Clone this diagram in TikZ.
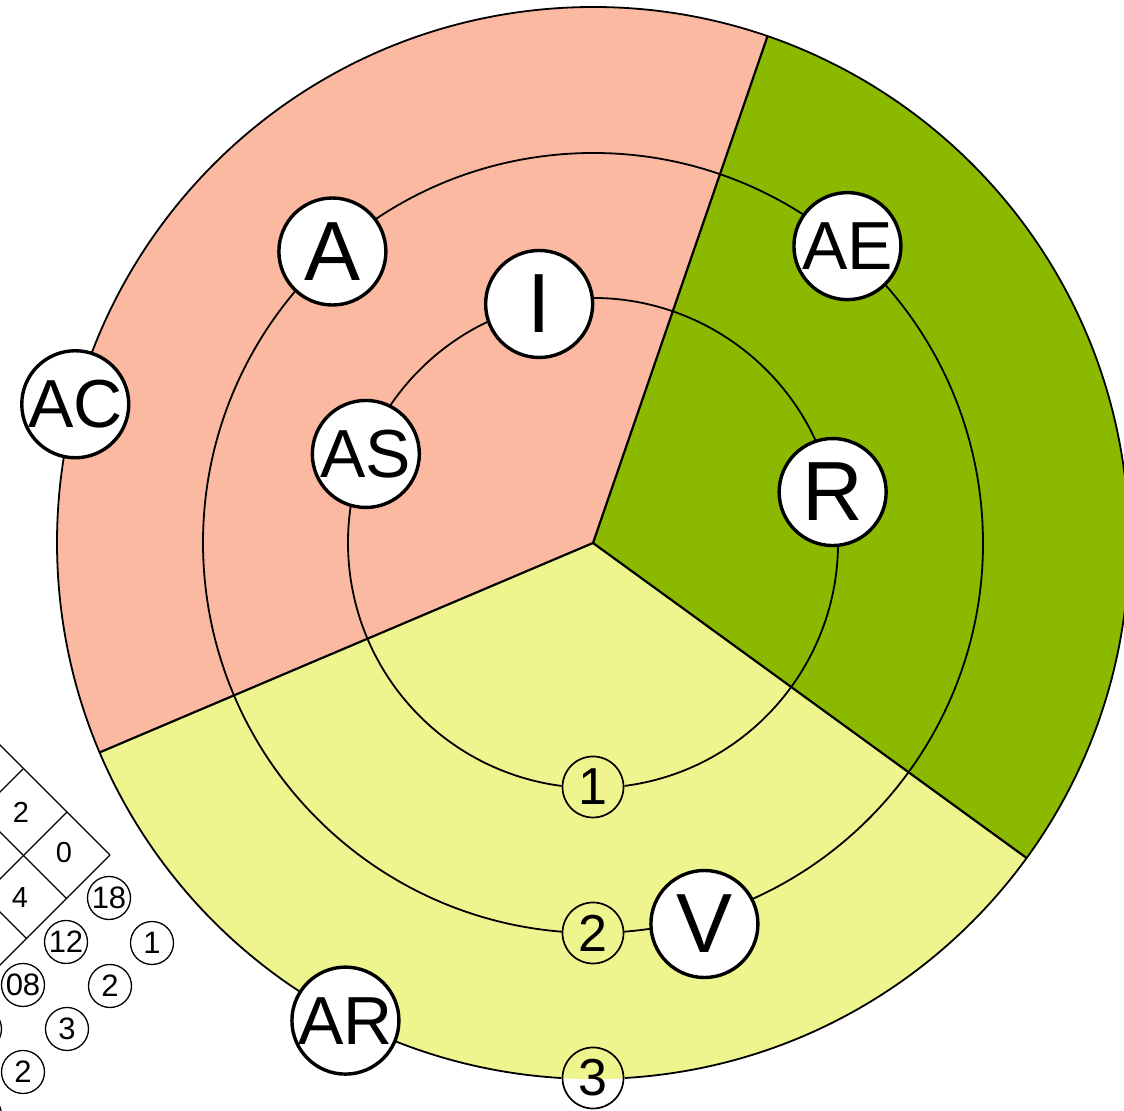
\documentclass[tikz,border=0pt]{standalone}
\usepackage{fontspec}
\setmainfont{Liberation Sans}
\definecolor{pinkS}{RGB}{250,185,160}
\definecolor{greenS}{RGB}{138,185,0}
\definecolor{yellowS}{RGB}{239,245,142}
\begin{document}
\begin{tikzpicture}[x=0.5pt,y=0.5pt,
  bignode/.style={circle,draw,line width=1.7pt,fill=white,minimum size=53.5pt,inner sep=0pt,font=\fontsize{42}{46}\selectfont},
  bigtwo/.style={bignode,font=\fontsize{34}{36}\selectfont},
  ringnum/.style={circle,draw,line width=0.85pt,minimum size=30.5pt,inner sep=0pt,font=\fontsize{26}{28}\selectfont},
  smallnum/.style={circle,draw,line width=0.65pt,minimum size=21.5pt,inner sep=0pt,font=\fontsize{15.5}{17}\selectfont},
  gridnum/.style={inner sep=0pt,font=\fontsize{14.5}{16}\selectfont},
  gridline/.style={line width=0.65pt},
  ringline/.style={line width=0.9pt},
  sectorline/.style={line width=1.1pt}]
\useasboundingbox (0,0) rectangle (1124,1111);
\clip (0,0) rectangle (1124,1111);
% ---- big disc ----
\begin{scope}[shift={(593,568)}]
  \fill[pinkS] (0,0) -- (71:536) arc[start angle=71,end angle=203,radius=536] -- cycle;
  \fill[greenS] (0,0) -- (-36:536) arc[start angle=-36,end angle=71,radius=536] -- cycle;
  \fill[yellowS] (0,0) -- (203:536) arc[start angle=203,end angle=324,radius=536] -- cycle;
  \coordinate (c) at (0,0);
  \coordinate (b1) at (71:536);
  \coordinate (b2) at (203:536);
  \coordinate (b3) at (-36:536);
  \draw[sectorline] (c) -- (b1);
  \draw[sectorline] (c) -- (b2);
  \draw[sectorline] (c) -- (b3);
  % rings with gaps at the number circles
  \draw[ringline] (-82.6:245) arc[start angle=-82.6,end angle=262.6,radius=245];
  \draw[ringline] (-85.4:390) arc[start angle=-85.4,end angle=265.4,radius=390];
  \draw[ringline] (-86.6:536) arc[start angle=-86.6,end angle=266.6,radius=536];
  % number circles
  \node[ringnum] (n1) at (270:244) {1};
  \node[ringnum] (n2) at (270:390) {2};
  \node[ringnum] (n3) at (270:535) {3};
  % letter circles
  \node[bigtwo] (ac) at (165:536) {AC};
  \node[bignode] (a) at (131.8:391) {A};
  \node[bignode] (i) at (102.7:245) {I};
  \node[bigtwo] (as) at (158.6:244) {AS};
  \node[bigtwo] (ae) at (49.4:391) {AE};
  \node[bignode] (r) at (12:245) {R};
  \node[bignode] (v) at (-73.7:397) {V};
  \node[bigtwo] (ar) at (242.6:538) {AR};
\end{scope}
% ---- partial diamond grid (bottom left) ----
\draw[gridline] (-40,406) -- (110,256);
\draw[gridline] (-40,319) -- (66.5,212.5);
\draw[gridline] (-40,239) -- (26.5,172.5);
\draw[gridline] (23.5,342.5) -- (-40,279);
\draw[gridline] (67,299) -- (-40,192);
\draw[gridline] (110,256) -- (-40,106);
\node[gridnum] (g2) at (21,299) {2};
\node[gridnum] (g0) at (64,258) {0};
\node[gridnum] (g4) at (20,213) {4};
% ---- small numbered circles ----
\node[smallnum] (s18) at (109,213) {18};
\node[smallnum] (s12) at (66,169) {12};
\node[smallnum] (s1) at (152,168) {1};
\node[smallnum] (s08) at (23,126) {08};
\node[smallnum] (s2a) at (110,125) {2};
\node[smallnum] (s3) at (67,82) {3};
\node[smallnum] (sp1) at (-20,82) {};
\node[smallnum] (s2b) at (23,39) {2};
\node[smallnum] (sp2) at (-20,-4) {};
\end{tikzpicture}
\end{document}
